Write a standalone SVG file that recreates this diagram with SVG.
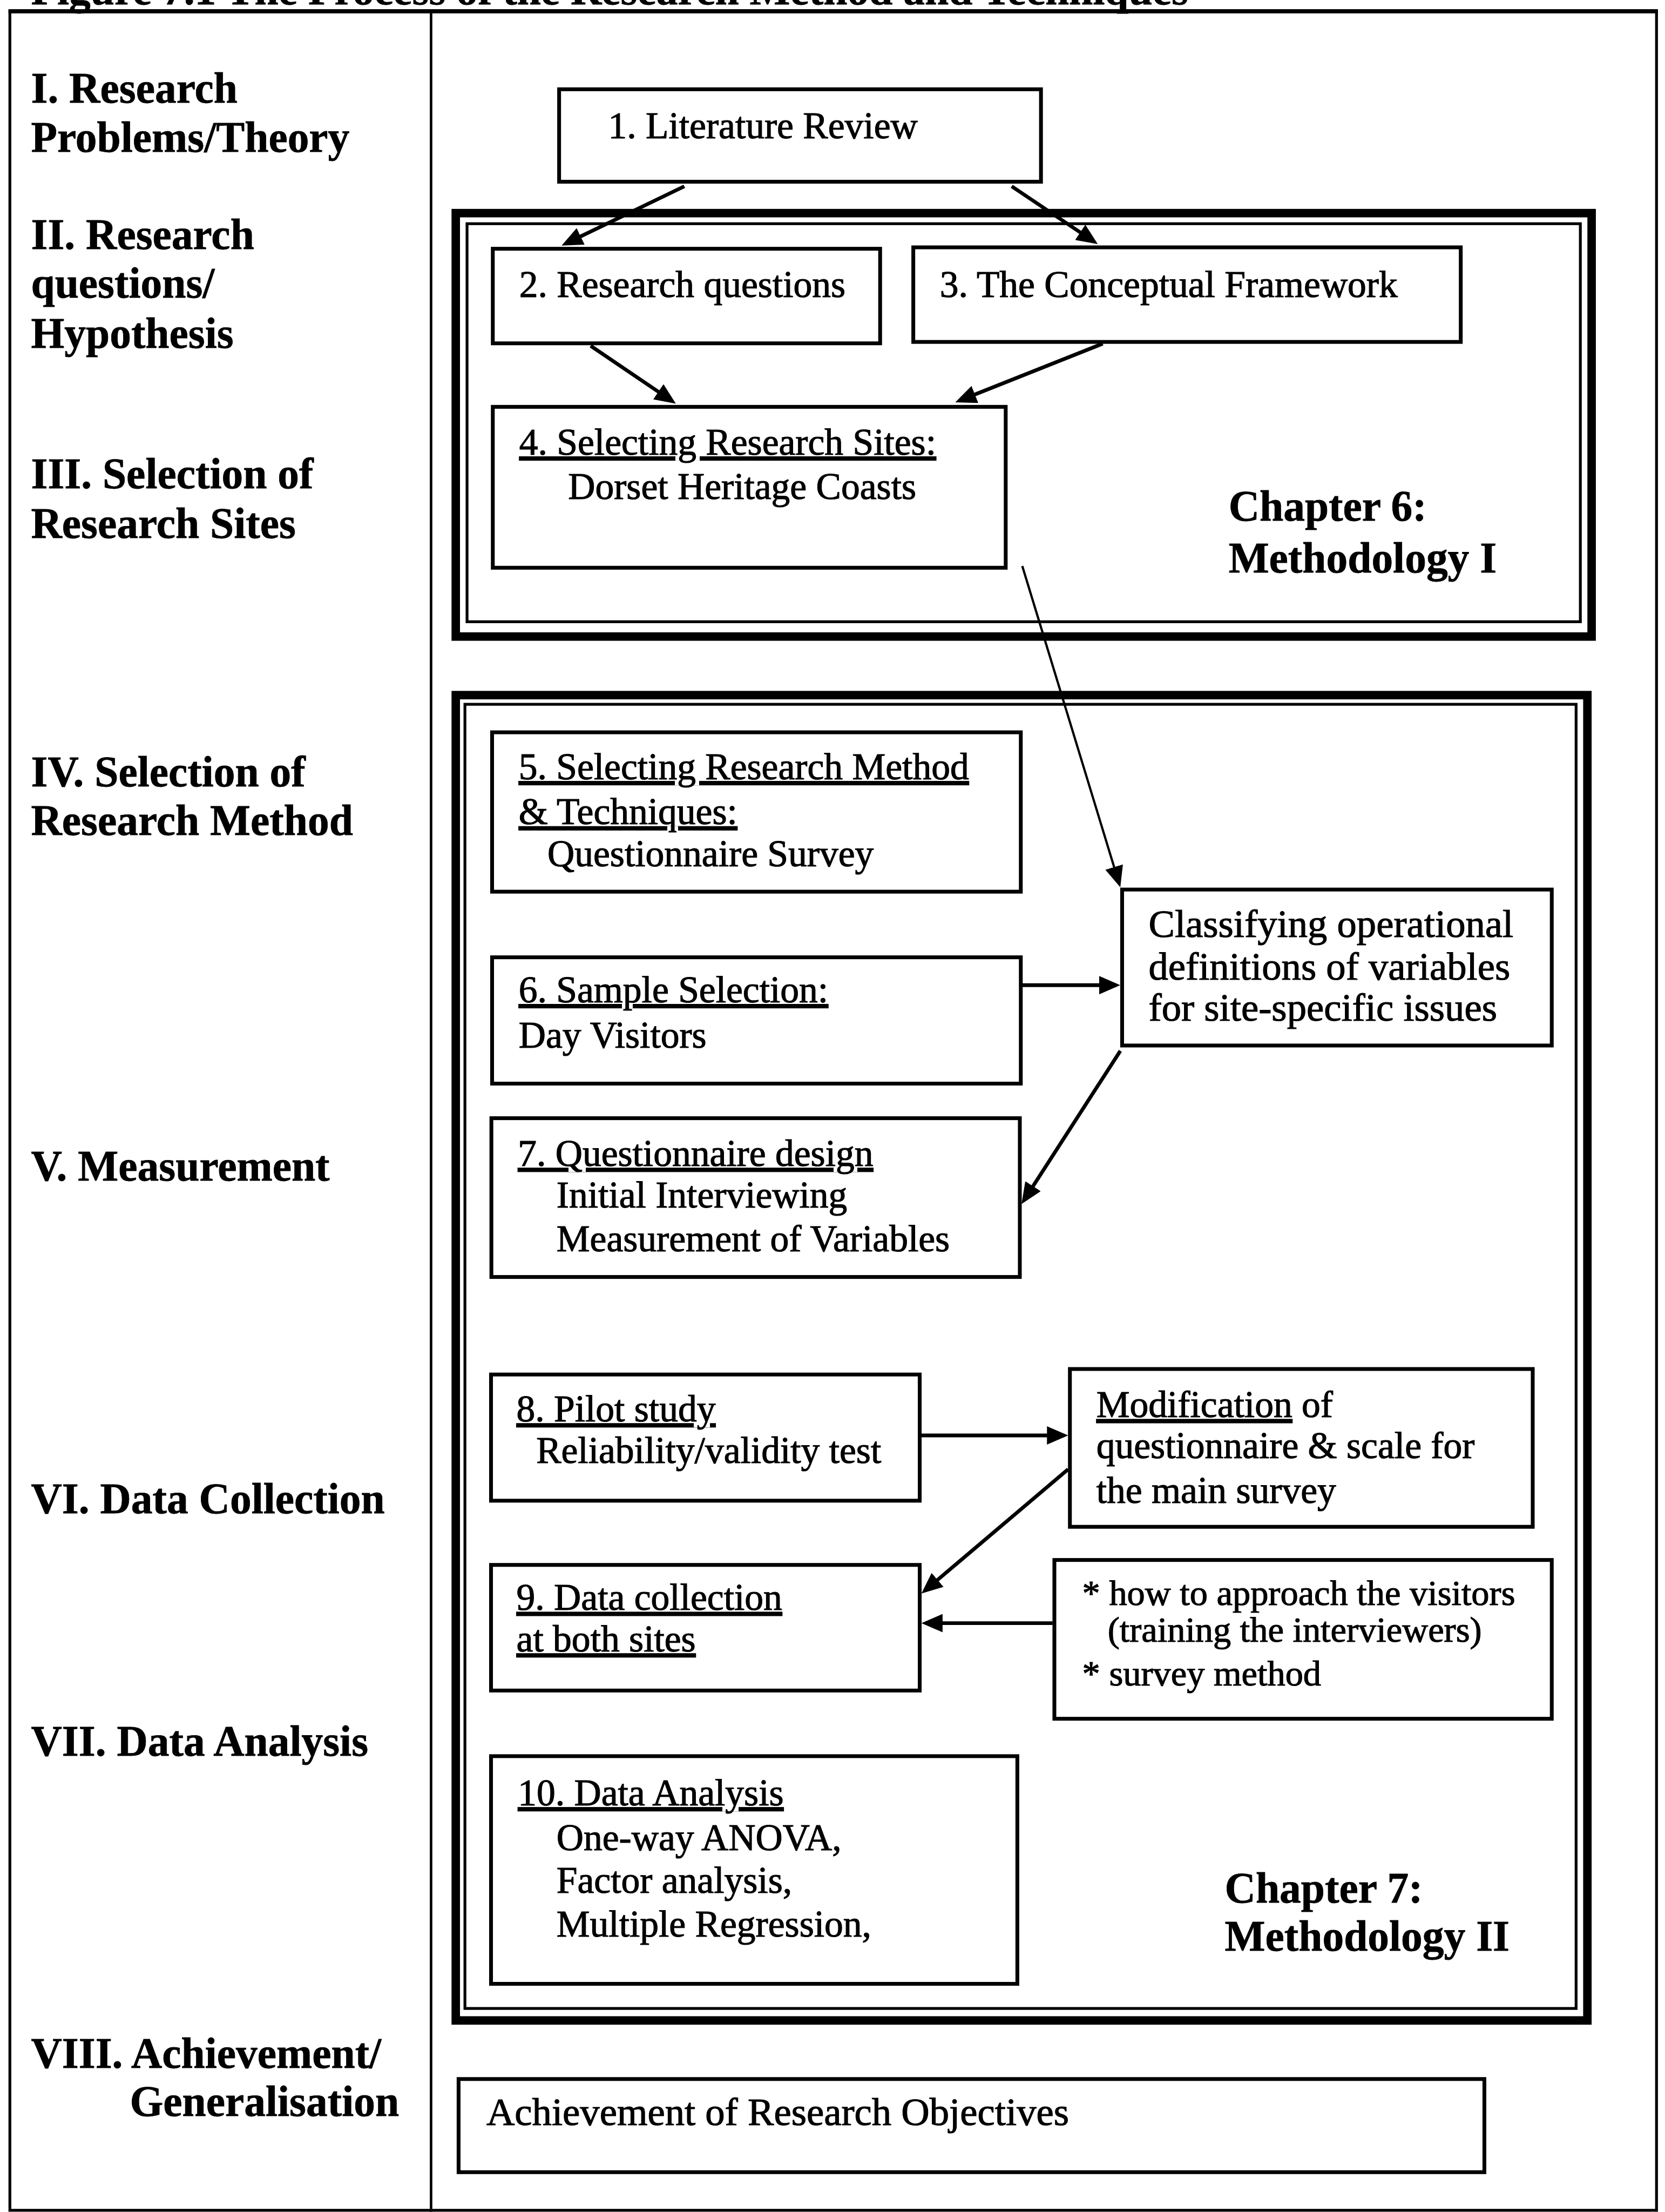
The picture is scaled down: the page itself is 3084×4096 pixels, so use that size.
<svg xmlns="http://www.w3.org/2000/svg" width="3084" height="4096" viewBox="0 0 3084 4096">
  <style>
    .lbl { font-family: "Liberation Serif", "Times New Roman", serif; font-weight: bold; font-size: 30.4px; fill: #000; stroke: #000; stroke-width: 0.3; }
    .txt { font-family: "Liberation Serif", "Times New Roman", serif; font-size: 26.6px; fill: #000; stroke: #000; stroke-width: 0.45; }
    .big { font-size: 27.8px; }
    .sm { font-size: 25.4px; }
    .u { text-decoration: underline; }
    .box { fill: #fff; stroke: #000; stroke-width: 2.7; }
    .frame { fill: none; stroke: #000; stroke-width: 2; }
    .thick { fill: none; stroke: #000; stroke-width: 6; }
    .thin { fill: none; stroke: #000; stroke-width: 2; }
    .conn { fill: none; stroke: #000; stroke-width: 2.6; marker-end: url(#arrow); }
    .conn.fine { stroke-width: 1.6; }
  </style>
  <defs>
    <marker id="arrow" markerUnits="userSpaceOnUse" viewBox="0 0 15 13" markerWidth="15" markerHeight="13" refX="12" refY="6.5" orient="auto">
      <path d="M0,0 L15,6.5 L0,13 Z" fill="#000"/>
    </marker>
  </defs>
  <rect x="0" y="0" width="3084" height="4096" fill="#fff"/>

  <g transform="scale(2.61356)">
    <!-- figure caption, mostly above the top edge -->
    <text class="lbl" x="22" y="3" font-size="30.5">Figure 7.1 The Process of the Research Method and Techniques</text>

    <!-- outer frame and column divider -->
    <g id="frame">
      <rect class="frame" x="7" y="8" width="1167" height="1558"/>
      <line x1="6" y1="8" x2="1175" y2="8" stroke="#000" stroke-width="3"/>
      <line x1="305.5" y1="8" x2="305.5" y2="1567" stroke="#000" stroke-width="1.8"/>
    </g>

    <!-- stage labels in the left column -->
    <g id="stages">
      <text class="lbl" x="22" y="72.6">I. Research</text>
      <text class="lbl" x="22" y="107.5">Problems/Theory</text>
      <text class="lbl" x="22" y="176.5">II. Research</text>
      <text class="lbl" x="22" y="211">questions/</text>
      <text class="lbl" x="22" y="246.5">Hypothesis</text>
      <text class="lbl" x="22" y="346">III. Selection of</text>
      <text class="lbl" x="22" y="381">Research Sites</text>
      <text class="lbl" x="22" y="557">IV. Selection of</text>
      <text class="lbl" x="22" y="591.5">Research Method</text>
      <text class="lbl" x="22" y="836.5">V. Measurement</text>
      <text class="lbl" x="22" y="1072">VI. Data Collection</text>
      <text class="lbl" x="22" y="1244">VII. Data Analysis</text>
      <text class="lbl" x="22" y="1465">VIII. Achievement/</text>
      <text class="lbl" x="92" y="1499">Generalisation</text>
    </g>

    <!-- chapter 6 double-line container -->
    <g id="chapter6">
      <rect class="thick" x="323" y="151" width="805" height="300"/>
      <rect class="thin" x="331" y="158.5" width="789" height="282"/>
      <text class="lbl" x="870.7" y="369">Chapter 6:</text>
      <text class="lbl" x="870.7" y="405.5">Methodology I</text>
    </g>

    <!-- chapter 7 double-line container -->
    <g id="chapter7">
      <rect class="thick" x="323" y="492.5" width="802" height="939"/>
      <rect class="thin" x="329.5" y="499" width="787.5" height="924"/>
      <text class="lbl" x="868" y="1348">Chapter 7:</text>
      <text class="lbl" x="868" y="1382">Methodology II</text>
    </g>

    <g id="n1">
      <rect class="box" x="396.25" y="63.25" width="341.5" height="65.5"/>
      <text class="txt" x="431" y="98">1. Literature Review</text>
    </g>
    <g id="n2">
      <rect class="box" x="349.25" y="176.25" width="274.5" height="67"/>
      <text class="txt" x="368" y="210.5">2. Research questions</text>
    </g>
    <g id="n3">
      <rect class="box" x="647.25" y="175.25" width="388" height="67"/>
      <text class="txt" x="666" y="210.5">3. The Conceptual Framework</text>
    </g>
    <g id="n4">
      <rect class="box" x="349.25" y="288.25" width="363.5" height="114"/>
      <text class="txt u" x="368" y="322">4. Selecting Research Sites:</text>
      <text class="txt" x="402.6" y="353.7">Dorset Heritage Coasts</text>
    </g>
    <g id="n5">
      <rect class="box" x="348.75" y="518.85" width="374.7" height="112.9"/>
      <text class="txt u" x="367.6" y="552">5. Selecting Research Method</text>
      <text class="txt u" x="367.6" y="584">&amp; Techniques:</text>
      <text class="txt" x="388" y="613.6">Questionnaire Survey</text>
    </g>
    <g id="classify">
      <rect class="box" x="795.25" y="630.25" width="304.5" height="110.5"/>
      <text class="txt big" x="814" y="664">Classifying operational</text>
      <text class="txt big" x="814" y="694">definitions of variables</text>
      <text class="txt big" x="814" y="723">for site-specific issues</text>
    </g>
    <g id="n6">
      <rect class="box" x="348.75" y="678.25" width="374.7" height="89.5"/>
      <text class="txt u" x="367.6" y="710">6. Sample Selection:</text>
      <text class="txt" x="367.6" y="742.4">Day Visitors</text>
    </g>
    <g id="n7">
      <rect class="box" x="348.25" y="792.25" width="374.5" height="112.5"/>
      <text class="txt u" x="367" y="826">7. Questionnaire design</text>
      <text class="txt" x="394.4" y="855.7">Initial Interviewing</text>
      <text class="txt" x="394.4" y="886.4">Measurement of Variables</text>
    </g>
    <g id="n8">
      <rect class="box" x="348" y="973.85" width="303.8" height="89.4"/>
      <text class="txt u" x="366" y="1007">8. Pilot study</text>
      <text class="txt" x="380" y="1036.6">Reliability/validity test</text>
    </g>
    <g id="modify">
      <rect class="box" x="758.25" y="969.95" width="328" height="111.8"/>
      <text class="txt" x="777" y="1004"><tspan class="u">Modification</tspan> of</text>
      <text class="txt" x="777" y="1033">questionnaire &amp; scale for</text>
      <text class="txt" x="777" y="1065">the main survey</text>
    </g>
    <g id="n9">
      <rect class="box" x="348" y="1108.75" width="303.8" height="89"/>
      <text class="txt u" x="366" y="1140.6">9. Data collection</text>
      <text class="txt u" x="366" y="1170">at both sites</text>
    </g>
    <g id="approach">
      <rect class="box" x="747.25" y="1105.25" width="352.5" height="112.5"/>
      <text class="txt sm" x="767" y="1137">* how to approach the visitors</text>
      <text class="txt sm" x="785" y="1163">(training the interviewers)</text>
      <text class="txt sm" x="767" y="1194">* survey method</text>
    </g>
    <g id="n10">
      <rect class="box" x="348" y="1244.25" width="373" height="161.3"/>
      <text class="txt u" x="367" y="1279">10. Data Analysis</text>
      <text class="txt" x="394.4" y="1311">One-way ANOVA,</text>
      <text class="txt" x="394.4" y="1341">Factor analysis,</text>
      <text class="txt" x="394.4" y="1372">Multiple Regression,</text>
    </g>
    <g id="achieve">
      <rect class="box" x="325" y="1473" width="727" height="66" stroke-width="2"/>
      <text class="txt big" x="344.7" y="1505.6">Achievement of Research Objectives</text>
    </g>

    <!-- connectors -->
    <g id="connectors">
      <line class="conn" x1="485" y1="132" x2="400.7" y2="172.7"/>
      <line class="conn" x1="717" y1="132" x2="775.5" y2="171.3"/>
      <line class="conn" x1="418.6" y1="245" x2="476.5" y2="284.3"/>
      <line class="conn" x1="781.5" y1="243.5" x2="679.8" y2="283.9"/>
      <line class="conn fine" x1="724.5" y1="401" x2="793.1" y2="625.8"/>
      <line class="conn" x1="724.7" y1="698" x2="791" y2="698"/>
      <line class="conn" x1="794" y1="744.5" x2="725.6" y2="850.5"/>
      <line class="conn" x1="653" y1="1017" x2="754" y2="1017"/>
      <line class="conn" x1="757" y1="1041" x2="655.3" y2="1127.1"/>
      <line class="conn" x1="746" y1="1150" x2="656" y2="1150"/>
    </g>
  </g>
</svg>
